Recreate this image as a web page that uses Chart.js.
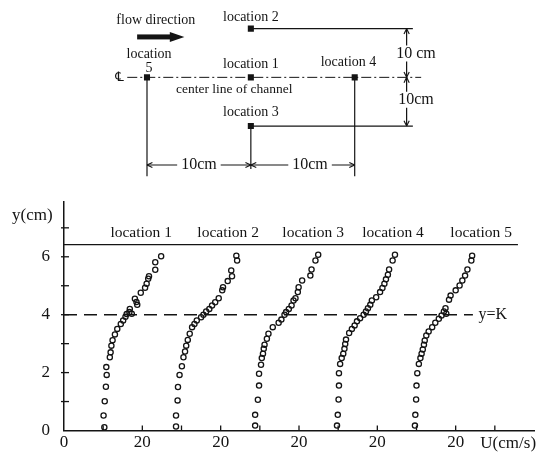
<!DOCTYPE html>
<html>
<head>
<meta charset="utf-8">
<script src="https://cdn.jsdelivr.net/npm/chart.js@4"></script>
<style>
  html, body { margin: 0; padding: 0; background: #fff; }
  #wrap { position: relative; width: 553px; height: 452px; overflow: hidden; }
  #sketch { position: absolute; left: 0; top: 0; }
  #profiles { position: absolute; left: 0; top: 190px; }
</style>
</head>
<body>
<div id="wrap">
  <canvas id="sketch" width="553" height="190"></canvas>
  <canvas id="profiles" width="553" height="262"></canvas>
</div>
<script>
// ---- data ----
const locationNames = ['location 1', 'location 2', 'location 3', 'location 4', 'location 5'];
const locationOffset = [0, 20, 40, 60, 80];   // each profile is shifted by 20 cm/s on the U axis

// velocity U (cm/s) and height y (cm) for each location
const uLoc1 = [10.3, 10.1, 10.4, 10.7, 10.9, 10.8, 11.7, 11.9, 12.1, 12.4, 13.0, 13.6, 14.5, 15.1, 15.7, 16.0, 16.7, 16.8, 17.3, 18.5, 18.7, 18.1, 19.6, 20.7, 21.1, 21.5, 21.7, 23.3, 23.3, 24.8];
const yLoc1 = [0.11, 0.52, 1.01, 1.51, 1.92, 2.19, 2.53, 2.70, 2.93, 3.12, 3.32, 3.51, 3.68, 3.80, 3.93, 4.02, 4.09, 4.20, 4.03, 4.44, 4.34, 4.55, 4.76, 4.93, 5.07, 5.24, 5.33, 5.55, 5.81, 6.02];
const uLoc2 = [8.6, 8.6, 9.0, 9.1, 9.5, 10.1, 10.5, 10.9, 11.2, 11.6, 12.1, 12.7, 13.3, 13.9, 15.0, 15.6, 16.3, 17.1, 17.8, 18.6, 19.5, 20.4, 20.6, 21.8, 22.9, 22.7, 24.2, 24.0];
const yLoc2 = [0.14, 0.52, 1.04, 1.50, 1.92, 2.22, 2.53, 2.73, 2.93, 3.13, 3.34, 3.57, 3.68, 3.80, 3.91, 4.00, 4.11, 4.20, 4.32, 4.43, 4.57, 4.84, 4.95, 5.16, 5.33, 5.53, 5.87, 6.04];
const uLoc3 = [8.8, 8.8, 9.5, 9.8, 9.8, 10.3, 10.5, 10.8, 11.0, 11.2, 11.8, 12.2, 13.3, 14.8, 15.5, 16.3, 16.7, 17.4, 18.1, 18.6, 19.1, 19.7, 19.9, 20.8, 22.9, 23.2, 24.2, 24.9];
const yLoc3 = [0.17, 0.54, 1.06, 1.55, 1.96, 2.27, 2.50, 2.65, 2.82, 2.96, 3.17, 3.34, 3.57, 3.72, 3.83, 4.00, 4.09, 4.20, 4.32, 4.49, 4.57, 4.78, 4.95, 5.18, 5.35, 5.56, 5.87, 6.07];
const uLoc4 = [9.7, 9.9, 10.1, 10.2, 10.2, 10.5, 10.9, 11.3, 11.6, 11.8, 12.0, 12.8, 13.5, 14.2, 14.8, 15.6, 16.5, 17.1, 17.6, 18.2, 18.6, 19.7, 20.7, 21.3, 21.8, 22.2, 22.7, 23.0, 23.9, 24.5];
const yLoc4 = [0.17, 0.54, 1.07, 1.55, 1.98, 2.30, 2.50, 2.65, 2.82, 2.99, 3.14, 3.37, 3.51, 3.63, 3.77, 3.88, 4.00, 4.11, 4.22, 4.34, 4.49, 4.60, 4.78, 4.92, 5.07, 5.22, 5.38, 5.56, 5.87, 6.07];
const uLoc5 = [9.6, 9.7, 9.9, 10.0, 10.2, 10.6, 11.0, 11.3, 11.6, 11.9, 12.1, 12.5, 13.1, 14.0, 14.8, 15.7, 16.4, 17.0, 17.4, 17.6, 18.3, 18.7, 20.0, 21.0, 21.7, 22.4, 23.0, 24.0, 24.2];
const yLoc5 = [0.17, 0.54, 1.07, 1.55, 1.98, 2.30, 2.50, 2.65, 2.80, 2.96, 3.11, 3.28, 3.42, 3.57, 3.72, 3.86, 3.97, 4.11, 4.22, 4.03, 4.52, 4.66, 4.84, 5.01, 5.18, 5.35, 5.56, 5.87, 6.04];

const uValues = [uLoc1, uLoc2, uLoc3, uLoc4, uLoc5];
const yValues = [yLoc1, yLoc2, yLoc3, yLoc4, yLoc5];

const surfaceLevel = 6.42;   // solid line
const kLevel = 4;            // y = K
const xTickLabels = ['0', '20', '20', '20', '20', '20'];
const yTickLabels = [0, 2, 4, 6];

// sketch: measuring locations in the channel (cm)
const siteX = [10, 10, 10, 20, 0];
const siteY = [0, 10, -10, 0, 0];

const INK = '#141414';
const SERIF = "'Liberation Serif', 'DejaVu Serif', serif";

Chart.defaults.font.family = SERIF;
Chart.defaults.color = INK;

// ---- helpers ----
function seg(ctx, x1, y1, x2, y2) {
    ctx.beginPath();
    ctx.moveTo(x1, y1);
    ctx.lineTo(x2, y2);
    ctx.stroke();
}

function arrowHead(ctx, x, y, angle) {
    const len = 6, spread = 0.45;
    seg(ctx, x, y, x - len * Math.cos(angle - spread), y - len * Math.sin(angle - spread));
    seg(ctx, x, y, x - len * Math.cos(angle + spread), y - len * Math.sin(angle + spread));
}

// text sitting on a white patch so it breaks the dimension line
function gapText(ctx, text, x, y, padX, padY) {
    const w = ctx.measureText(text).width;
    ctx.fillStyle = '#fff';
    ctx.fillRect(x - w / 2 - padX, y - padY, w + 2 * padX, 2 * padY);
    ctx.fillStyle = INK;
    ctx.fillText(text, x, y);
}

function lineSet(points, extra) {
    return Object.assign({
        data: points, showLine: true, pointRadius: 0,
        borderColor: INK, borderWidth: 1.2
    }, extra || {});
}

// ---- top sketch ----
const sketchDecor = {
    id: 'sketchDecor',
    afterDraw(chart) {
        const { ctx, scales: { x, y } } = chart;
        const X = v => x.getPixelForValue(v);
        const Y = v => y.getPixelForValue(v);
        ctx.save();
        ctx.strokeStyle = INK;
        ctx.fillStyle = INK;
        ctx.lineWidth = 1.1;

        // dimension arrows
        arrowHead(ctx, X(25), Y(10), -Math.PI / 2);
        arrowHead(ctx, X(25), Y(0), Math.PI / 2);
        arrowHead(ctx, X(25), Y(0), -Math.PI / 2);
        arrowHead(ctx, X(25), Y(-10), Math.PI / 2);
        arrowHead(ctx, X(0), Y(-18), Math.PI);
        arrowHead(ctx, X(10), Y(-18), 0);
        arrowHead(ctx, X(10), Y(-18), Math.PI);
        arrowHead(ctx, X(20), Y(-18), 0);

        // flow arrow
        const ay = Y(8.3);
        ctx.fillRect(X(-0.95), ay - 2.5, X(2.4) - X(-0.95), 5);
        ctx.beginPath();
        ctx.moveTo(X(2.2), ay - 5);
        ctx.lineTo(X(3.6), ay);
        ctx.lineTo(X(2.2), ay + 5);
        ctx.closePath();
        ctx.fill();

        ctx.textAlign = 'center';
        ctx.textBaseline = 'middle';
        ctx.font = '14px ' + SERIF;
        ctx.fillText('flow direction', X(0.85), Y(11.7));
        ctx.fillText('location 2', X(10), Y(12.4));
        ctx.fillText('location 1', X(10), Y(2.7));
        ctx.fillText('location 4', X(19.4), Y(3.0));
        ctx.fillText('location', X(0.2), Y(4.7));
        ctx.fillText('5', X(0.2), Y(1.9));
        ctx.fillText('location 3', X(10), Y(-7.2));
        ctx.font = '13.5px ' + SERIF;
        ctx.fillText('center line of channel', X(8.4), Y(-2.5));
        ctx.font = '16px ' + SERIF;
        gapText(ctx, '10 cm', X(25.9), Y(4.9), 1, 8);
        gapText(ctx, '10cm', X(25.9), Y(-4.6), 1, 8);
        gapText(ctx, '10cm', X(5.0), Y(-17.9), 4, 6);
        gapText(ctx, '10cm', X(15.7), Y(-17.9), 4, 6);
        ctx.font = '13px DejaVu Sans';
        ctx.fillText('\u2104', X(-2.65), Y(0));
        ctx.restore();
    }
};

new Chart(document.getElementById('sketch'), {
    type: 'scatter',
    data: {
        datasets: [
            {
                data: siteX.map((v, i) => ({ x: v, y: siteY[i] })),
                pointStyle: 'rect', pointRadius: 4.3,
                backgroundColor: INK, borderWidth: 0
            },
            lineSet([{ x: -1.9, y: 0 }, { x: 26.4, y: 0 }], { borderWidth: 1, borderDash: [10, 3, 2, 3] }),
            lineSet([{ x: 10, y: 10 }, { x: 25.6, y: 10 }]),
            lineSet([{ x: 10, y: -10 }, { x: 25.6, y: -10 }]),
            lineSet([{ x: 25, y: 10 }, { x: 25, y: -10 }]),
            lineSet([{ x: 0, y: 0 }, { x: 0, y: -20.3 }]),
            lineSet([{ x: 10, y: -10 }, { x: 10, y: -18.8 }]),
            lineSet([{ x: 20, y: 0 }, { x: 20, y: -20.3 }]),
            lineSet([{ x: 0, y: -18 }, { x: 20, y: -18 }])
        ]
    },
    options: {
        responsive: false,
        devicePixelRatio: 1,
        animation: false,
        events: [],
        layout: { padding: 0 },
        plugins: { legend: { display: false }, tooltip: { enabled: false } },
        scales: {
            x: { type: 'linear', min: -13.74, max: 38.68, display: false },
            y: { type: 'linear', min: -22.25, max: 15, display: false }
        }
    },
    plugins: [sketchDecor]
});

// ---- velocity profiles ----
const profileSets = locationNames.map((name, i) => ({
    label: name,
    data: uValues[i].map((u, j) => ({ x: u + locationOffset[i], y: yValues[i][j] })),
    showLine: false,
    pointStyle: 'circle',
    pointRadius: 2.6,
    pointBorderWidth: 1.3,
    borderColor: INK,
    backgroundColor: 'rgba(255,255,255,0)'
}));
profileSets.push(lineSet([{ x: 0, y: surfaceLevel }, { x: 115.9, y: surfaceLevel }], { borderWidth: 1.4 }));
profileSets.push(lineSet([{ x: 0, y: kLevel }, { x: 104.4, y: kLevel }], { borderWidth: 1.4, borderDash: [13, 7] }));

const labelAt = [19.7, 41.9, 63.6, 84.0, 106.5];

const profileDecor = {
    id: 'profileDecor',
    afterDraw(chart) {
        const { ctx, scales: { x, y } } = chart;
        ctx.save();
        ctx.strokeStyle = INK;
        ctx.fillStyle = INK;
        ctx.lineWidth = 1.3;

        // inward tick marks
        x.ticks.forEach(t => {
            if (t.value <= 0 || t.value >= x.max) return;
            const px = x.getPixelForValue(t.value);
            seg(ctx, px, y.bottom, px, y.bottom - 5);
        });
        y.ticks.forEach(t => {
            if (t.value <= 0 || !Number.isInteger(t.value)) return;
            const py = y.getPixelForValue(t.value);
            seg(ctx, x.left - 3, py, x.left + 5, py);
        });

        ctx.textBaseline = 'middle';
        ctx.textAlign = 'center';
        ctx.font = '15.5px ' + SERIF;
        locationNames.forEach((n, i) => {
            ctx.fillText(n, x.getPixelForValue(labelAt[i]), y.getPixelForValue(6.81));
        });

        ctx.textAlign = 'left';
        ctx.font = '16px ' + SERIF;
        ctx.fillText('y=K', x.getPixelForValue(105.8), y.getPixelForValue(kLevel));
        ctx.font = '17px ' + SERIF;
        ctx.fillText('U(cm/s)', x.getPixelForValue(106.3), y.bottom + 13);
        ctx.fillText('y(cm)', 12, y.getPixelForValue(7.44));
        ctx.restore();
    }
};

new Chart(document.getElementById('profiles'), {
    type: 'scatter',
    data: { datasets: profileSets },
    options: {
        responsive: false,
        devicePixelRatio: 1,
        animation: false,
        events: [],
        layout: { padding: { left: 0, right: 19, top: 0, bottom: 0 } },
        plugins: { legend: { display: false }, tooltip: { enabled: false } },
        scales: {
            x: {
                type: 'linear', min: 0, max: 120,
                border: { display: true, color: INK, width: 1.5 },
                grid: { display: false, drawTicks: false },
                ticks: {
                    stepSize: 10, autoSkip: false, maxRotation: 0, padding: 2,
                    font: { size: 17 }, color: INK,
                    callback: v => (v % 20 === 0 && v / 20 < xTickLabels.length ? xTickLabels[v / 20] : '')
                },
                afterFit: s => { s.height = 21.5; }
            },
            y: {
                type: 'linear', min: 0, max: 7.9,
                border: { display: true, color: INK, width: 1.5 },
                // tick marks are drawn by the plugin; tickLength only spaces the labels
                grid: { display: false, drawTicks: true, tickLength: 12 },
                ticks: {
                    stepSize: 1, autoSkip: false, padding: 2,
                    font: { size: 17, lineHeight: 1.15 }, color: INK,
                    callback: v => (yTickLabels.includes(v) ? String(v) : '')
                },
                afterFit: s => { s.width = 64; }
            }
        }
    },
    plugins: [profileDecor]
});
</script>
</body>
</html>
